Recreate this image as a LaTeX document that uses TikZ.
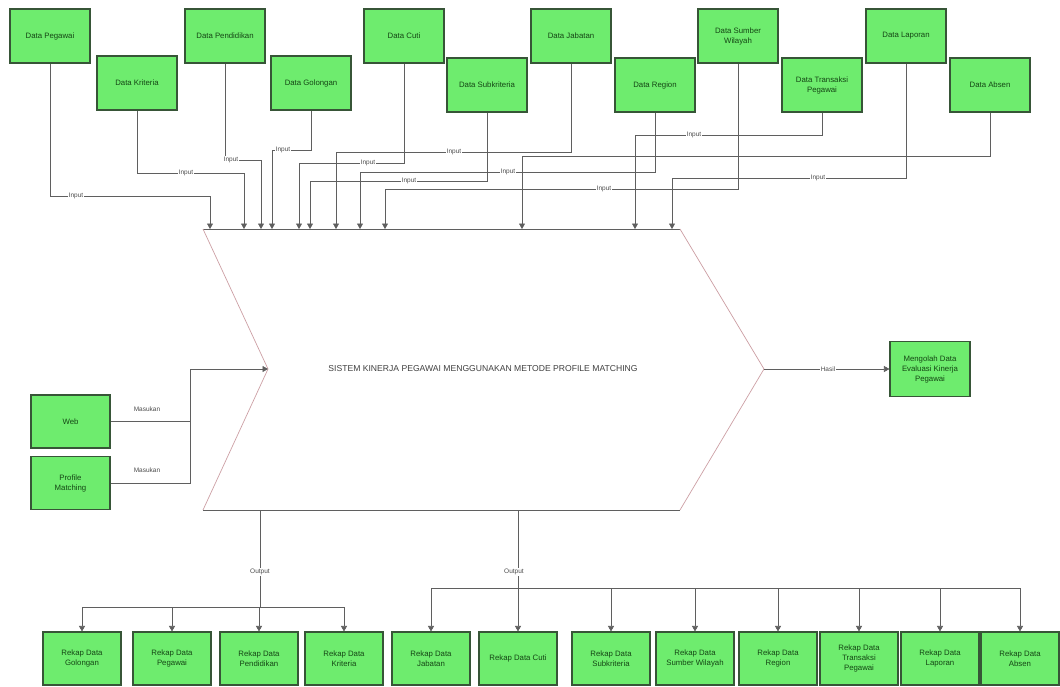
\documentclass[tikz,border=0pt]{standalone}
\usepackage{fontspec}
\setmainfont{Liberation Sans}
\usetikzlibrary{arrows.meta}
\definecolor{boxfill}{RGB}{110,236,110}
\definecolor{boxline}{RGB}{55,85,55}
\definecolor{boxtext}{RGB}{20,70,20}
\definecolor{wire}{RGB}{95,95,95}
\definecolor{shapeline}{RGB}{205,160,165}
\tikzset{
  box/.style={draw=boxline, line width=1.1pt, fill=boxfill, text=boxtext,
    minimum width=80pt, minimum height=54pt, align=center, inner sep=1pt,
    font=\fontsize{7.8}{10}\selectfont},
  rbox/.style={box, minimum width=78pt, minimum height=53pt},
  wireline/.style={draw=wire, line width=0.7pt},
  conn/.style={wireline, -{Triangle[length=5.5pt,width=6pt]}},
  lbl/.style={fill=white, inner sep=1pt, text=black!70, font=\fontsize{6.5}{7}\selectfont},
}
\begin{document}
\begin{tikzpicture}[x=1pt,y=-1pt]
\useasboundingbox (0,0) rectangle (1060,686);
\fill[white] (0,0) rectangle (1060,686);

% central chevron
\coordinate (A) at (203,229);
\coordinate (B) at (680,229);
\coordinate (C) at (764,369);
\coordinate (D) at (680,510);
\coordinate (E) at (203,510);
\coordinate (F) at (268,369);
\draw[wire, line width=0.7pt] (A) -- (B);
\draw[wire, line width=0.7pt] (E) -- (D);
\draw[shapeline, line width=0.7pt] (B) -- (C) -- (D);
\draw[shapeline, line width=0.7pt] (A) -- (F) -- (E);
\node[font=\fontsize{8.6}{10}\selectfont, text=black!75] (title) at (483,369)
  {SISTEM KINERJA PEGAWAI MENGGUNAKAN METODE PROFILE MATCHING};

% top input boxes
\node[box] (p1) at (50,36) {Data Pegawai};
\node[box] (p2) at (137,83) {Data Kriteria};
\node[box] (p3) at (225,36) {Data Pendidikan};
\node[box] (p4) at (311,83) {Data Golongan};
\node[box] (p5) at (404,36) {Data Cuti};
\node[box] (p6) at (487,85) {Data Subkriteria};
\node[box] (p7) at (571,36) {Data Jabatan};
\node[box] (p8) at (655,85) {Data Region};
\node[box] (p9) at (738,36) {Data Sumber\\Wilayah};
\node[box] (p10) at (822,85) {Data Transaksi\\Pegawai};
\node[box] (p11) at (906,36) {Data Laporan};
\node[box] (p12) at (990,85) {Data Absen};

% arrow targets on the top edge
\coordinate (t1) at (210,229);
\coordinate (t2) at (244,229);
\coordinate (t3) at (261,229);
\coordinate (t4) at (272,229);
\coordinate (t5) at (299,229);
\coordinate (t6) at (310,229);
\coordinate (t7) at (336,229);
\coordinate (t8) at (360,229);
\coordinate (t9) at (385,229);
\coordinate (t10) at (635,229);
\coordinate (t11) at (672,229);
\coordinate (t12) at (522,229);

\draw[conn] (p1.south) -- (p1.south |- 0,196) -| (t1);
\draw[conn] (p2.south) -- (p2.south |- 0,173) -| (t2);
\draw[conn] (p3.south) -- (p3.south |- 0,160) -| (t3);
\draw[conn] (p4.south) -- (p4.south |- 0,150) -| (t4);
\draw[conn] (p5.south) -- (p5.south |- 0,163) -| (t5);
\draw[conn] (p6.south) -- (p6.south |- 0,181) -| (t6);
\draw[conn] (p7.south) -- (p7.south |- 0,152) -| (t7);
\draw[conn] (p8.south) -- (p8.south |- 0,172) -| (t8);
\draw[conn] (p9.south) -- (p9.south |- 0,189) -| (t9);
\draw[conn] (p10.south) -- (p10.south |- 0,135) -| (t10);
\draw[conn] (p11.south) -- (p11.south |- 0,178) -| (t11);
\draw[conn] (p12.south) -- (p12.south |- 0,156) -| (t12);

\node[lbl] (l1) at (76,196) {Input};
\node[lbl] (l2) at (186,173) {Input};
\node[lbl] (l3) at (231,160) {Input};
\node[lbl] (l4) at (283,150) {Input};
\node[lbl] (l5) at (368,163) {Input};
\node[lbl] (l6) at (409,181) {Input};
\node[lbl] (l7) at (454,152) {Input};
\node[lbl] (l8) at (508,172) {Input};
\node[lbl] (l9) at (604,189) {Input};
\node[lbl] (l10) at (694,135) {Input};
\node[lbl] (l11) at (818,178) {Input};

% left inputs
\node[box, minimum width=79pt, minimum height=53pt] (web) at (70.5,421.5) {Web};
\node[box, minimum width=79pt, minimum height=53pt] (pm) at (70.5,483) {Profile\\Matching};
\coordinate (jl) at (190,369);
\draw[wireline] (web.east) -- (web.east -| jl);
\draw[conn] (pm.east) -| (jl) -- (F);
\node[lbl] (m1) at (147,409) {Masukan};
\node[lbl] (m2) at (147,470) {Masukan};

% right output
\node[box, minimum width=80pt, minimum height=55pt] (res) at (930,369) {Mengolah Data\\Evaluasi Kinerja\\Pegawai};
\draw[conn] (C) -- (res.west);
\node[lbl] (h1) at (828,369) {Hasil};

% bottom outputs
\node[rbox] (r1) at (82,658.5) {Rekap Data\\Golongan};
\node[rbox] (r2) at (172,658.5) {Rekap Data\\Pegawai};
\node[rbox] (r3) at (259,658.5) {Rekap Data\\Pendidikan};
\node[rbox] (r4) at (344,658.5) {Rekap Data\\Kriteria};
\node[rbox] (r5) at (431,658.5) {Rekap Data\\Jabatan};
\node[rbox] (r6) at (518,658.5) {Rekap Data Cuti};
\node[rbox] (r7) at (611,658.5) {Rekap Data\\Subkriteria};
\node[rbox] (r8) at (695,658.5) {Rekap Data\\Sumber Wilayah};
\node[rbox] (r9) at (778,658.5) {Rekap Data\\Region};
\node[rbox] (r10) at (859,658.5) {Rekap Data\\Transaksi\\Pegawai};
\node[rbox] (r11) at (940,658.5) {Rekap Data\\Laporan};
\node[rbox] (r12) at (1020,658.5) {Rekap Data\\Absen};

\coordinate (bl) at (260,510);
\coordinate (bl2) at (260,607);
\draw[wireline] (bl) -- (bl2);
\draw[wireline] (r1.north |- bl2) -- (r4.north |- bl2);
\foreach \r in {r1,r2,r3,r4} { \draw[conn] (\r.north |- bl2) -- (\r.north); }
\node[lbl] (o1) at (260,572) {Output};

\coordinate (br) at (518,510);
\coordinate (br2) at (518,588);
\draw[wireline] (br) -- (br2);
\draw[wireline] (r5.north |- br2) -- (r12.north |- br2);
\foreach \r in {r5,r6,r7,r8,r9,r10,r11,r12} { \draw[conn] (\r.north |- br2) -- (\r.north); }
\node[lbl] (o2) at (514,572) {Output};
\end{tikzpicture}
\end{document}
